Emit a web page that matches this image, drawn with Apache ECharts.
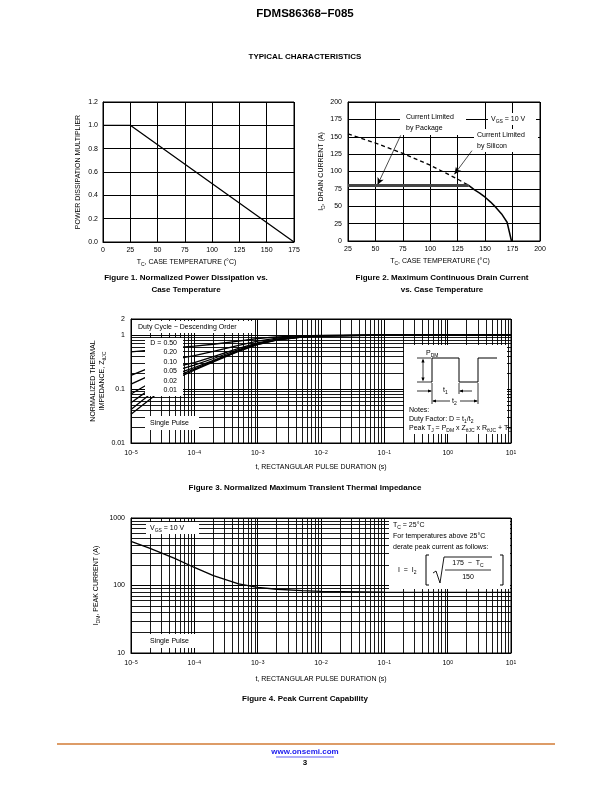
<!DOCTYPE html>
<html><head><meta charset="utf-8">
<script src="https://cdn.jsdelivr.net/npm/echarts@6/dist/echarts.min.js"></script>
<style>html,body{margin:0;padding:0;background:#fff}#c{width:612px;height:792px}</style>
</head><body><div id="c"></div>
<script>
// ---------- Figure 1: power dissipation multiplier vs case temperature ----------
const fig1Temp = [0, 25, 175];
const fig1Mult = [1.0, 1.0, 0.0];
// ---------- Figure 2: drain current vs case temperature ----------
const fig2SiliconTemp = [25, 50, 75, 100, 125, 135];
const fig2SiliconCur  = [154, 141, 126, 109, 89, 80];
const fig2PackageTemp = [25, 135];
const fig2PackageCur  = [80, 80];
const fig2DerateTemp  = [135, 140, 145, 150, 155, 160, 165, 170, 174];
const fig2DerateCur   = [80, 74, 69, 63, 56, 48, 39, 27, 0];
// ---------- Figure 3: transient thermal impedance ----------
const fig3Time = [1e-5, 2e-5, 5e-5, 1e-4, 2e-4, 5e-4, 1e-3, 2e-3, 5e-3, 1e-2, 1e-1, 1, 10];
const fig3D050 = [0.49, 0.53, 0.59, 0.63, 0.68, 0.78, 0.87, 0.93, 0.97, 0.99, 1.0, 1.0, 1.0];
const fig3D020 = [0.18, 0.25, 0.36, 0.42, 0.50, 0.65, 0.78, 0.88, 0.95, 0.98, 1.0, 1.0, 1.0];
const fig3D010 = [0.124, 0.18, 0.26, 0.31, 0.40, 0.57, 0.72, 0.85, 0.94, 0.98, 1.0, 1.0, 1.0];
const fig3D005 = [0.081, 0.13, 0.22, 0.28, 0.37, 0.54, 0.70, 0.84, 0.935, 0.975, 1.0, 1.0, 1.0];
const fig3D002 = [0.056, 0.10, 0.19, 0.25, 0.34, 0.52, 0.69, 0.83, 0.93, 0.97, 1.0, 1.0, 1.0];
const fig3D001 = [0.042, 0.08, 0.17, 0.235, 0.33, 0.51, 0.68, 0.82, 0.925, 0.97, 1.0, 1.0, 1.0];
const fig3Single = [0.034, 0.065, 0.155, 0.225, 0.32, 0.50, 0.67, 0.815, 0.92, 0.965, 1.0, 1.0, 1.0];
const fig3DutyLabels = ['D = 0.50', '0.20', '0.10', '0.05', '0.02', '0.01'];
// ---------- Figure 4: peak current capability ----------
const fig4Time = [1e-5, 2e-5, 5e-5, 1e-4, 2e-4, 5e-4, 1e-3, 2e-3, 5e-3, 1e-2, 1e-1, 1, 10];
const fig4Current = [450, 355, 250, 185, 140, 106, 94, 88, 84, 82, 80, 79, 79];
// tick labels
const fig1YLabels = ['0.0', '0.2', '0.4', '0.6', '0.8', '1.0', '1.2'];

const FONT = '"Liberation Sans", Arial, Helvetica, sans-serif';
const zip = (a, b) => a.map((v, i) => [v, b[i]]);

const RICH = {
  s: { fontSize: 5, lineHeight: 5, verticalAlign: 'bottom', fontFamily: FONT, color: '#000' },
  u: { fontSize: 5, lineHeight: 5, verticalAlign: 'top', fontFamily: FONT, color: '#000' }
};

function txt(x, y, text, o) {
  o = o || {};
  return { type: 'text', x: x, y: y, z: o.z || 60, silent: true,
    style: { text: text, fill: o.color || '#000', fontSize: o.size || 7, fontFamily: FONT,
      fontWeight: o.bold ? 'bold' : 'normal', lineHeight: o.lh || 10,
      align: o.align || 'left', textAlign: o.align || 'left',
      verticalAlign: 'middle', textVerticalAlign: 'middle',
      rich: { s: { fontSize: 5, lineHeight: 5, verticalAlign: 'bottom', fontFamily: FONT, fill: '#000' },
              u: { fontSize: 5, lineHeight: 5, verticalAlign: 'top', fontFamily: FONT, fill: '#000' } } } };
}
function box(x, y, w, h) {
  return { type: 'rect', z: 40, silent: true, shape: { x: x, y: y, width: w, height: h }, style: { fill: '#fff' } };
}
function ln(x1, y1, x2, y2, w) {
  return { type: 'line', z: 60, silent: true, shape: { x1, y1, x2, y2 }, style: { stroke: '#000', lineWidth: w || 0.8 } };
}
function pl(points, w, fill) {
  return { type: fill ? 'polygon' : 'polyline', z: 60, silent: true, shape: { points: points },
    style: fill ? { fill: '#000' } : { stroke: '#000', lineWidth: w || 0.8, fill: null } };
}
function arrowHead(x, y, dir) {
  const a = 4, b = 1.6;
  if (dir === 'r') return pl([[x, y], [x - a, y - b], [x - a, y + b]], 0, true);
  if (dir === 'l') return pl([[x, y], [x + a, y - b], [x + a, y + b]], 0, true);
  if (dir === 'u') return pl([[x, y], [x - b, y + a], [x + b, y + a]], 0, true);
  return pl([[x, y], [x - b, y - a], [x + b, y - a]], 0, true);
}

const axisLabelStyle = { color: '#000', fontSize: 7, fontFamily: FONT };
const splitBlack = { show: true, lineStyle: { color: '#000', width: 1 } };
const axisBlack = { show: true, onZero: false, lineStyle: { color: '#000', width: 1 } };

function expFmt(v) {
  const e = Math.round(Math.log10(v));
  return '10{u|' + String(e).replace('-', '\u2212') + '}';
}
const expRich = { u: { fontSize: 5, lineHeight: 6, verticalAlign: 'top', fontFamily: FONT, color: '#000' } };

// log grid lines at 2..9 of every decade (graph-paper rulings, not data)
function minorValues(lo, hi) {
  const out = [];
  for (let e = Math.floor(Math.log10(lo)); e <= Math.ceil(Math.log10(hi)); e++) {
    for (let m = 2; m <= 9; m++) {
      const v = m * Math.pow(10, e);
      if (v > lo * 1.0001 && v < hi * 0.9999) out.push(v);
    }
  }
  return out;
}
function gridSeries(i, xlo, xhi, ylo, yhi) {
  const data = minorValues(xlo, xhi).map(v => ({ coords: [[v, ylo], [v, yhi]] }))
    .concat(minorValues(ylo, yhi).map(v => ({ coords: [[xlo, v], [xhi, v]] })));
  return { type: 'lines', coordinateSystem: 'cartesian2d', xAxisIndex: i, yAxisIndex: i, data: data,
    z: 1, silent: true, animation: false, polyline: false,
    lineStyle: { color: '#000', width: 0.9, opacity: 1, curveness: 0 } };
}
function curve(xi, xs, ys, style) {
  return Object.assign({ type: 'line', xAxisIndex: xi, yAxisIndex: xi, data: zip(xs, ys), showSymbol: false,
    symbol: 'none', smooth: false, z: 5, animation: false, silent: true,
    lineStyle: { color: '#000', width: 1.3 } }, style || {});
}

const option = {
  animation: false,
  backgroundColor: '#fff',
  grid: [
    { left: 103, top: 102, width: 191, height: 140, show: true, borderColor: '#000', borderWidth: 1 },
    { left: 348, top: 102, width: 192, height: 139, show: true, borderColor: '#000', borderWidth: 1 },
    { left: 131, top: 319, width: 380, height: 124, show: true, borderColor: '#000', borderWidth: 1 },
    { left: 131, top: 518, width: 380, height: 135, show: true, borderColor: '#000', borderWidth: 1 }
  ],
  xAxis: [
    { gridIndex: 0, type: 'value', min: 0, max: 175, interval: 25, axisLine: axisBlack, axisTick: { show: false },
      splitLine: splitBlack, axisLabel: Object.assign({ margin: 5 }, axisLabelStyle),
      name: 'T{s|C}, CASE TEMPERATURE (\u00B0C)', nameLocation: 'middle', nameGap: 15,
      nameTextStyle: { color: '#000', fontSize: 7, fontFamily: FONT, lineHeight: 10, rich: RICH, padding: [0, 24, 0, 0] } },
    { gridIndex: 1, type: 'value', min: 25, max: 200, interval: 25, axisLine: axisBlack, axisTick: { show: false },
      splitLine: splitBlack, axisLabel: Object.assign({ margin: 5 }, axisLabelStyle),
      name: 'T{s|C}, CASE TEMPERATURE (\u00B0C)', nameLocation: 'middle', nameGap: 15,
      nameTextStyle: { color: '#000', fontSize: 7, fontFamily: FONT, lineHeight: 10, rich: RICH, padding: [0, 8, 0, 0] } },
    { gridIndex: 2, type: 'log', logBase: 10, min: 1e-5, max: 10, axisLine: axisBlack, axisTick: { show: false },
      splitLine: splitBlack, axisLabel: Object.assign({ margin: 7, formatter: expFmt, rich: expRich }, axisLabelStyle),
      name: 't, RECTANGULAR PULSE DURATION (s)', nameLocation: 'middle', nameGap: 21,
      nameTextStyle: { color: '#000', fontSize: 7, fontFamily: FONT } },
    { gridIndex: 3, type: 'log', logBase: 10, min: 1e-5, max: 10, axisLine: axisBlack, axisTick: { show: false },
      splitLine: splitBlack, axisLabel: Object.assign({ margin: 7, formatter: expFmt, rich: expRich }, axisLabelStyle),
      name: 't, RECTANGULAR PULSE DURATION (s)', nameLocation: 'middle', nameGap: 23,
      nameTextStyle: { color: '#000', fontSize: 7, fontFamily: FONT } }
  ],
  yAxis: [
    { gridIndex: 0, type: 'value', min: 0, max: 1.2, interval: 0.2, axisLine: axisBlack, axisTick: { show: false },
      splitLine: splitBlack,
      axisLabel: Object.assign({ margin: 5, formatter: v => fig1YLabels[Math.round(v / 0.2)] }, axisLabelStyle),
      name: 'POWER DISSIPATION MULTIPLIER', nameLocation: 'middle', nameGap: 21, nameRotate: 90,
      nameTextStyle: { color: '#000', fontSize: 7, fontFamily: FONT } },
    { gridIndex: 1, type: 'value', min: 0, max: 200, interval: 25, axisLine: axisBlack, axisTick: { show: false },
      splitLine: splitBlack, axisLabel: Object.assign({ margin: 6 }, axisLabelStyle),
      name: 'I{s|D}, DRAIN CURRENT (A)', nameLocation: 'middle', nameGap: 22, nameRotate: 90,
      nameTextStyle: { color: '#000', fontSize: 7, fontFamily: FONT, lineHeight: 10, rich: RICH } },
    { gridIndex: 2, type: 'log', logBase: 10, min: 0.01, max: 2, axisLine: axisBlack, axisTick: { show: false },
      splitLine: splitBlack,
      axisLabel: Object.assign({ margin: 6, formatter: v => String(parseFloat(v.toPrecision(3))) }, axisLabelStyle),
      name: 'NORMALIZED THERMAL\nIMPEDANCE, Z{s|\u03B8JC}', nameLocation: 'middle', nameGap: 24, nameRotate: 90,
      nameMoveOverlap: false,
      nameTextStyle: { color: '#000', fontSize: 7, fontFamily: FONT, lineHeight: 9, rich: RICH } },
    { gridIndex: 3, type: 'log', logBase: 10, min: 10, max: 1000, axisLine: axisBlack, axisTick: { show: false },
      splitLine: splitBlack,
      axisLabel: Object.assign({ margin: 6, formatter: v => String(Math.round(v)) }, axisLabelStyle),
      name: 'I{s|DM}, PEAK CURRENT (A)', nameLocation: 'middle', nameGap: 30, nameRotate: 90,
      nameMoveOverlap: false,
      nameTextStyle: { color: '#000', fontSize: 7, fontFamily: FONT, lineHeight: 10, rich: RICH } }
  ],
  series: [
    curve(0, fig1Temp, fig1Mult),
    curve(1, fig2SiliconTemp, fig2SiliconCur, { lineStyle: { color: '#000', width: 1.3, type: [4, 3] } }),
    curve(1, fig2PackageTemp, fig2PackageCur, { lineStyle: { color: '#444', width: 3 },
      markLine: { silent: true, symbol: ['none', 'arrow'], symbolSize: [5, 7], animation: false,
        label: { show: false }, lineStyle: { color: '#000', width: 0.7, type: 'solid' },
        data: [ [ { coord: [73, 152] }, { coord: [52, 81] } ],
                [ { coord: [138, 130] }, { coord: [122, 96] } ] ] } }),
    curve(1, fig2DerateTemp, fig2DerateCur, { lineStyle: { color: '#000', width: 1.5 } }),
    gridSeries(2, 1e-5, 10, 0.01, 2),
    curve(2, fig3Time, fig3D050, { name: fig3DutyLabels[0] }),
    curve(2, fig3Time, fig3D020, { name: fig3DutyLabels[1] }),
    curve(2, fig3Time, fig3D010, { name: fig3DutyLabels[2] }),
    curve(2, fig3Time, fig3D005, { name: fig3DutyLabels[3] }),
    curve(2, fig3Time, fig3D002, { name: fig3DutyLabels[4] }),
    curve(2, fig3Time, fig3D001, { name: fig3DutyLabels[5] }),
    curve(2, fig3Time, fig3Single, { name: 'Single Pulse' }),
    gridSeries(3, 1e-5, 10, 10, 1000),
    curve(3, fig4Time, fig4Current, { name: 'Peak Current' })
  ],
  graphic: [
    txt(305, 14, 'FDMS86368\u2212F085', { align: 'center', bold: true, size: 11.5 }),
    txt(305, 57, 'TYPICAL CHARACTERISTICS', { align: 'center', bold: true, size: 8 }),
    txt(186, 278, 'Figure 1. Normalized Power Dissipation vs.', { align: 'center', bold: true, size: 8 }),
    txt(186, 290, 'Case Temperature', { align: 'center', bold: true, size: 8 }),
    txt(442, 278, 'Figure 2. Maximum Continuous Drain Current', { align: 'center', bold: true, size: 8 }),
    txt(442, 290, 'vs. Case Temperature', { align: 'center', bold: true, size: 8 }),
    txt(305, 488, 'Figure 3. Normalized Maximum Transient Thermal Impedance', { align: 'center', bold: true, size: 8 }),
    txt(305, 699, 'Figure 4. Peak Current Capability', { align: 'center', bold: true, size: 8 }),
    { type: 'line', z: 60, silent: true, shape: { x1: 57, y1: 744, x2: 555, y2: 744 }, style: { stroke: '#d27b35', lineWidth: 1.6 } },
    txt(305, 752, 'www.onsemi.com', { align: 'center', bold: true, size: 8, color: '#1a1aee' }),
    { type: 'line', z: 60, silent: true, shape: { x1: 276, y1: 757, x2: 334, y2: 757 }, style: { stroke: '#1a1aee', lineWidth: 0.7 } },
    txt(305, 763, '3', { align: 'center', bold: true, size: 8 }),

    // Figure 2 annotations
    box(400, 103, 66, 32),
    txt(406, 117, 'Current Limited', { size: 7 }),
    txt(406, 128, 'by Package', { size: 7 }),
    box(488, 113, 48, 12),
    txt(491, 119, 'V{s|GS} = 10 V', { size: 7 }),
    box(474, 129, 64, 23),
    txt(477, 135, 'Current Limited', { size: 7 }),
    txt(477, 146, 'by Silicon', { size: 7 }),

    // Figure 3 annotations
    box(133, 321, 121, 12),
    txt(138, 327, 'Duty Cycle \u2212 Descending Order', { size: 7 }),
    box(145, 338, 38, 58),
    txt(177, 343, fig3DutyLabels[0], { size: 7, align: 'right' }),
    txt(177, 352.5, fig3DutyLabels[1], { size: 7, align: 'right' }),
    txt(177, 362, fig3DutyLabels[2], { size: 7, align: 'right' }),
    txt(177, 371.5, fig3DutyLabels[3], { size: 7, align: 'right' }),
    txt(177, 381, fig3DutyLabels[4], { size: 7, align: 'right' }),
    txt(177, 390.5, fig3DutyLabels[5], { size: 7, align: 'right' }),
    box(145, 416, 54, 14),
    txt(150, 423, 'Single Pulse', { size: 7 }),
    box(404, 345, 103, 89),
    txt(426, 353, 'P{s|DM}', { size: 7 }),
    pl([[417, 358], [431, 358]]), pl([[417, 382], [431, 382]]),
    ln(423, 360, 423, 380), arrowHead(423, 358.5, 'u'), arrowHead(423, 381.5, 'd'),
    pl([[431, 382], [432, 382], [432, 358], [459, 358], [459, 382], [478, 382], [478, 358], [497, 358]], 1),
    ln(432, 383, 432, 404), ln(459, 383, 459, 394), ln(478, 383, 478, 404),
    ln(417, 391, 431, 391), arrowHead(432, 391, 'r'),
    txt(443, 390, 't{s|1}', { size: 7 }),
    ln(460, 391, 472, 391), arrowHead(459, 391, 'l'),
    ln(433, 401, 450, 401), arrowHead(432, 401, 'l'),
    txt(452, 401, 't{s|2}', { size: 7 }),
    ln(460, 401, 477, 401), arrowHead(478, 401, 'r'),
    txt(409, 410, 'Notes:', { size: 7 }),
    txt(409, 419, 'Duty Factor: D = t{s|1}/t{s|2}', { size: 7 }),
    txt(409, 428.5, 'Peak T{s|J} = P{s|DM} x Z{s|\u03B8JC} x R{s|\u03B8JC} + T{s|C}', { size: 7 }),

    // Figure 4 annotations
    box(146, 522, 53, 12),
    txt(150, 528, 'V{s|GS} = 10 V', { size: 7 }),
    box(145, 634, 54, 14),
    txt(150, 641, 'Single Pulse', { size: 7 }),
    box(389, 519, 121, 70),
    txt(393, 525, 'T{s|C} = 25\u00B0C', { size: 7 }),
    txt(393, 536, 'For temperatures above 25\u00B0C', { size: 7 }),
    txt(393, 547, 'derate peak current as follows:', { size: 7 }),
    txt(398, 570, 'I  =  I{s|2}', { size: 7 }),
    pl([[429, 555], [426, 555], [426, 585], [429, 585]], 1),
    pl([[500, 555], [503, 555], [503, 585], [500, 585]], 1),
    pl([[433, 573], [436, 571], [440, 583], [444, 557], [492, 557]], 0.9),
    ln(445, 570, 491, 570, 0.8),
    txt(468, 563.5, '175  \u2212  T{s|C}', { size: 7, align: 'center' }),
    txt(468, 577, '150', { size: 7, align: 'center' })
  ]
};

const chart = echarts.init(document.getElementById('c'), null, { renderer: 'canvas', width: 612, height: 792 });
chart.setOption(option);
</script>
</body></html>
